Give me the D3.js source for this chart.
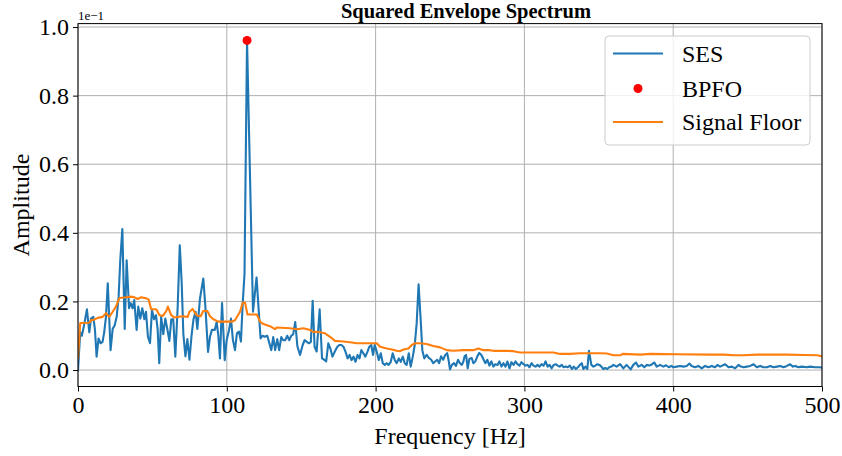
<!DOCTYPE html>
<html>
<head>
<meta charset="utf-8">
<script src="https://cdn.jsdelivr.net/npm/d3@7"></script>
<style>
html,body{margin:0;padding:0;background:#fff;}
svg{display:block;}
text{font-family:"Liberation Serif","DejaVu Serif",serif;}
</style>
</head>
<body>
<svg id="chart" width="842" height="456"></svg>
<script>
// ---- data (amplitude shown in units of 1e-1) ----
const title = "Squared Envelope Spectrum";
const xLabel = "Frequency [Hz]";
const yLabel = "Amplitude";
const offsetLabel = "1e\u22121";
const xTicks = [0, 100, 200, 300, 400, 500];
const yTicks = [0.0, 0.2, 0.4, 0.6, 0.8, 1.0];
const legendLabels = ["SES", "BPFO", "Signal Floor"];

const sesFreq = [
  0, 1.5, 2.6, 4.3, 6, 7.6, 8.7, 10.3, 11.4, 12.5,
  13.8, 15.2, 16.5, 17.6, 18.8, 20, 21.9, 23.3, 24.6, 26,
  27.3, 28.4, 29.8, 31.4, 32.7, 34.3, 35.4, 36.7, 37.8, 39.4,
  40.5, 41.9, 43.2, 44.6, 45.7, 47, 48.4, 49.7, 51.1, 52.4,
  53.5, 54.6, 55.9, 57.3, 58.7, 60, 61.4, 62.7, 64, 65.4,
  67, 68.4, 69.7, 70.8, 72.2, 73.5, 74.9, 76.3, 77.6, 79,
  80.2, 82, 84.2, 85.6, 87.4, 88.7, 90, 91.9, 93.2, 94.3,
  95.4, 96.8, 98.6, 99.9, 101.5, 102.8, 104.1, 105.5, 106.8, 108.2,
  109.5, 110.7, 111.9, 113.6, 117.6, 120, 121.2, 122.7, 124, 125.5,
  127.2, 128.5, 129.9, 131.2, 132.5, 133.9, 135.2, 136.6, 137.9, 139.3,
  140.6, 142, 143.3, 144.6, 146, 147.4, 149.2, 151, 152.3, 153.8,
  155.2, 156.5, 157.7, 159, 160.4, 162.4, 164, 165.5, 166.8, 168.2,
  169.8, 171, 172.5, 174.3, 175.6, 177, 178.4, 179.8, 181.2, 182.5,
  183.8, 185.2, 186.5, 187.9, 189.2, 190.4, 191.8, 193.1, 194.5, 195.8,
  197.1, 198.3, 199.4, 200.8, 202.1, 203.5, 204.8, 206.2, 207.5, 208.8,
  210.2, 211.5, 212.9, 214.2, 215.6, 216.9, 218.3, 219.6, 220.9, 222.3,
  223.6, 225, 226.3, 227.6, 228.9, 230.3, 231.4, 232.7, 234.3, 235.6,
  237.4, 238.7, 240, 241.4, 242.7, 244, 245.4, 246.8, 248.1, 249,
  250, 251.3, 252.7, 254, 255.4, 256.7, 258, 259, 259.8, 260.8,
  261.9, 263, 264.6, 265.7, 267, 268.4, 269.7, 271.1, 272.4, 273.8,
  275.1, 276.5, 277.8, 279.2, 280.5, 281.9, 283.2, 284.6, 285.9, 287.3,
  288.6, 290, 291.3, 292.7, 294, 295.3, 296.7, 298, 299.4, 300.7,
  302.1, 303.4, 304.8, 306.1, 307.5, 308.8, 310.2, 311.5, 312.9, 314.2,
  315.6, 316.9, 318.3, 319.7, 321, 322.4, 323.7, 325.1, 326.4, 327.8,
  329.1, 330.5, 331.9, 333.2, 334.6, 336, 337.3, 338.6, 339.6, 341,
  342.3, 343.4, 345, 346.4, 347.7, 349, 350.4, 351.7, 353, 354.3,
  355.7, 357, 358.4,
  359.8, 362, 364.3, 366.5, 368.7, 371.4, 373.2, 375, 376.6, 378.8,
  380.6, 382.2, 384, 385.8, 387.3, 388.9, 391.2, 393.4, 395.2, 397,
  398.8, 400.1, 402.3, 404.6, 406.8, 409.1, 410.9, 412.4, 414.7, 416.9,
  419.2, 421.4, 423.7, 425.9, 428.1, 429.7, 431.5, 434.9, 437.2, 439.4,
  441.6, 443.9, 445.5, 447.3, 449.5, 451.8, 454, 456.2, 458.5, 460.7,
  463, 465.2, 467.4, 469.7, 471.9, 474.2, 476.4, 478.6, 480.4, 482,
  484.2, 486.5, 489.8, 492.1, 495.4, 498.4, 500
];
const sesValues = [
  0.0, 0.11, 0.10, 0.136, 0.177, 0.11, 0.15, 0.155, 0.117, 0.039,
  0.092, 0.078, 0.082, 0.11, 0.155, 0.253, 0.058, 0.12, 0.13, 0.155,
  0.214, 0.32, 0.411, 0.12, 0.32, 0.18, 0.195, 0.18, 0.204, 0.117,
  0.185, 0.15, 0.18, 0.148, 0.17, 0.097, 0.078, 0.175, 0.148, 0.16,
  0.12, 0.02, 0.155, 0.105, 0.15, 0.12, 0.085, 0.148, 0.148, 0.039,
  0.185, 0.364, 0.253, 0.105, 0.04, 0.09, 0.03, 0.1, 0.148, 0.17,
  0.12, 0.209, 0.267, 0.185, 0.053, 0.097, 0.117, 0.117, 0.14, 0.1,
  0.034, 0.195, 0.029, 0.087, 0.117, 0.15, 0.088, 0.058, 0.107, 0.112,
  0.083, 0.195, 0.28, 0.961, 0.17, 0.27, 0.19, 0.092, 0.1, 0.097,
  0.1, 0.08, 0.058, 0.096, 0.058, 0.09, 0.058, 0.096, 0.087, 0.087,
  0.1, 0.087, 0.1, 0.104, 0.14, 0.07, 0.044, 0.073, 0.087, 0.082,
  0.078, 0.082, 0.202, 0.068, 0.054, 0.177, 0.034, 0.03, 0.025, 0.078,
  0.06, 0.039, 0.053, 0.068, 0.073, 0.073, 0.068, 0.053, 0.034, 0.044,
  0.029, 0.039, 0.024, 0.044, 0.034, 0.058, 0.049, 0.039, 0.053, 0.068,
  0.073, 0.044, 0.073, 0.053, 0.029, 0.049, 0.02, 0.015, 0.02, 0.015,
  0.024, 0.049, 0.029, 0.02, 0.034, 0.024, 0.039, 0.02, 0.015, 0.049,
  0.01, 0.039, 0.073, 0.136, 0.25, 0.146, 0.058, 0.034, 0.044, 0.036,
  0.03, 0.02, 0.025, 0.03, 0.02, 0.04, 0.03, 0.044, 0.049, 0.03,
  0.002, 0.015, 0.02, 0.012, 0.03, 0.02, 0.015, 0.025, 0.04, 0.044,
  0.005, 0.032, 0.035, 0.02, 0.025, 0.04, 0.05, 0.044, 0.032, 0.02,
  0.03, 0.013, 0.025, 0.01, 0.017, 0.015, 0.025, 0.01, 0.02, 0.01,
  0.025, 0.005, 0.023, 0.015, 0.025, 0.017, 0.013, 0.023, 0.017, 0.013,
  0.015, 0.008, 0.02, 0.013, 0.01, 0.015, 0.01, 0.017, 0.013, 0.025,
  0.01, 0.015, 0.005, 0.015, 0.017, 0.013, 0.01, 0.015, 0.008, 0.01,
  0.008, 0.013, 0.003, 0.01, 0.003, 0.008, 0.015, 0.02, 0.003, 0.01,
  0.003, 0.056, 0.015, 0.01, 0.013, 0.017, 0.015, 0.01, 0.003, 0.006,
  0.003, 0.008, 0.01,
  0.015, 0.010, 0.017, 0.005, 0.015, 0.002, 0.015, 0.022, 0.010, 0.015,
  0.008, 0.015, 0.013, 0.017, 0.022, 0.010, 0.015, 0.010, 0.014, 0.008,
  0.012, 0.008, 0.010, 0.012, 0.010, 0.012, 0.019, 0.012, 0.008, 0.012,
  0.005, 0.012, 0.008, 0.012, 0.008, 0.015, 0.010, 0.017, 0.008, 0.010,
  0.005, 0.015, 0.010, 0.008, 0.010, 0.012, 0.017, 0.008, 0.012, 0.008,
  0.008, 0.012, 0.008, 0.010, 0.012, 0.008, 0.012, 0.017, 0.010, 0.012,
  0.008, 0.010, 0.008, 0.010, 0.008, 0.008, 0.007
];

const floorFreq = [
  0, 1.5, 7.6, 8.7, 11, 13.2, 16.5, 18.8, 21, 23.3,
  25.5, 27.8, 32.3, 35.6, 38, 40, 42.5, 45.9, 47.4, 49.2,
  52.6, 54.8, 57, 59.3, 60.4, 62.6, 64.8, 67, 70.4, 73.7,
  74.9, 77, 79.6, 82.4, 84.2, 86.9, 88.7, 91, 94.3, 97.7,
  103.3, 105.5, 108.9, 110.7, 112.3, 113.9, 120.2, 122.3, 124.6, 129,
  132.4, 133.5, 142.5, 147, 151.5, 156, 157.7, 162.7, 166, 169.4,
  172.7, 178.3, 182.8, 187.3, 200.8, 203, 207.5, 210.9, 214.2, 216.5,
  218.7, 222.1, 224.3, 226.6, 230, 234.3, 238.8, 243.3, 247.8, 252.3,
  259, 265.7, 269.1, 272.4, 275.8, 279.2, 288.1, 292.6, 297.1, 319.5,
  324, 330.7, 337.4, 350.9, 355.4, 359.9, 364.4, 366, 378, 384.7,
  402.6, 425, 434, 440.7, 447.4, 456.4, 476.6, 487.8, 496.8, 500
];
const floorValues = [
  0.035, 0.137, 0.138, 0.145, 0.147, 0.152, 0.155, 0.166, 0.155, 0.17,
  0.185, 0.21, 0.212, 0.214, 0.212, 0.207, 0.212, 0.209, 0.206, 0.177,
  0.177, 0.16, 0.158, 0.172, 0.185, 0.16, 0.153, 0.155, 0.157, 0.155,
  0.17, 0.178, 0.16, 0.157, 0.172, 0.172, 0.157, 0.148, 0.141, 0.141,
  0.141, 0.145, 0.17, 0.197, 0.196, 0.162, 0.162, 0.141, 0.134, 0.128,
  0.119, 0.124, 0.122, 0.119, 0.122, 0.117, 0.112, 0.11, 0.107, 0.097,
  0.085, 0.083, 0.081, 0.078, 0.078, 0.068, 0.063, 0.06, 0.056, 0.055,
  0.06, 0.063, 0.073, 0.078, 0.078, 0.076, 0.07, 0.066, 0.058, 0.056,
  0.058, 0.058, 0.063, 0.058, 0.058, 0.056, 0.056, 0.055, 0.051, 0.051,
  0.047, 0.047, 0.049, 0.049, 0.048, 0.043, 0.043, 0.047, 0.045, 0.047,
  0.046, 0.045, 0.045, 0.043, 0.043, 0.045, 0.045, 0.044, 0.043, 0.04
];

const bpfoFreq = [113.6];
const bpfoValues = [0.961];

// ---- layout ----
const svg = d3.select("#chart");
const margin = {left: 78, right: 20, top: 23.6, bottom: 69.5};
const W = 842, H = 456;
const iw = W - margin.left - margin.right;
const ih = H - margin.top - margin.bottom;
const x = d3.scaleLinear().domain([0, 500]).range([margin.left, margin.left + iw]);
const y = d3.scaleLinear().domain([-0.048, 1.010]).range([margin.top + ih, margin.top]);

const blue = "#1f77b4", orange = "#ff7f0e";

// grid
const g = svg.append("g");
g.selectAll(".vg").data(xTicks).enter().append("line")
  .attr("x1", d => x(d)).attr("x2", d => x(d))
  .attr("y1", margin.top).attr("y2", margin.top + ih)
  .attr("stroke", "#b0b0b0").attr("stroke-width", 1);
g.selectAll(".hg").data(yTicks).enter().append("line")
  .attr("x1", margin.left).attr("x2", margin.left + iw)
  .attr("y1", d => y(d)).attr("y2", d => y(d))
  .attr("stroke", "#b0b0b0").attr("stroke-width", 1);

// clip
svg.append("clipPath").attr("id", "clip").append("rect")
  .attr("x", margin.left).attr("y", margin.top).attr("width", iw).attr("height", ih);

const sesData = sesFreq.map((f, i) => [f, sesValues[i]]);
const floorData = floorFreq.map((f, i) => [f, floorValues[i]]);
const line = d3.line().x(d => x(d[0])).y(d => y(d[1]));

const plot = svg.append("g").attr("clip-path", "url(#clip)");
plot.append("path").datum(sesData).attr("d", line)
  .attr("fill", "none").attr("stroke", blue).attr("stroke-width", 2.1)
  .attr("stroke-linejoin", "round").attr("stroke-linecap", "square");
plot.append("path").datum(floorData).attr("d", line)
  .attr("fill", "none").attr("stroke", orange).attr("stroke-width", 2.1)
  .attr("stroke-linejoin", "round").attr("stroke-linecap", "square");
svg.selectAll(".bpfo").data(bpfoFreq).enter().append("circle")
  .attr("cx", d => x(d)).attr("cy", (d, i) => y(bpfoValues[i]))
  .attr("r", 4.5).attr("fill", "#ff0000");

// axes
const xAxis = d3.axisBottom(x).tickValues(xTicks).tickFormat(d3.format("d")).tickSize(5).tickPadding(4);
const yAxis = d3.axisLeft(y).tickValues(yTicks).tickFormat(d3.format(".1f")).tickSize(5).tickPadding(4);
const gx = svg.append("g").attr("transform", `translate(0,${margin.top + ih})`).call(xAxis);
const gy = svg.append("g").attr("transform", `translate(${margin.left},0)`).call(yAxis);
[gx, gy].forEach(a => {
  a.select(".domain").remove();
  a.selectAll(".tick line").attr("stroke", "#000").attr("stroke-width", 1);
  a.selectAll(".tick text").attr("fill", "#000").style("font-size", "24px")
    .style("font-family", '"Liberation Serif", serif');
});

// spines
svg.append("rect").attr("x", margin.left).attr("y", margin.top)
  .attr("width", iw).attr("height", ih)
  .attr("fill", "none").attr("stroke", "#000").attr("stroke-width", 1);

// labels
svg.append("text").attr("x", 466).attr("y", 18)
  .attr("text-anchor", "middle").style("font-size", "20.5px").style("font-weight", "bold")
  .text(title);
svg.append("text").attr("x", margin.left + iw / 2).attr("y", 444)
  .attr("text-anchor", "middle").style("font-size", "24px").text(xLabel);
svg.append("text").attr("transform", `translate(29,${margin.top + ih / 2}) rotate(-90)`)
  .attr("text-anchor", "middle").style("font-size", "24px").text(yLabel);
svg.append("text").attr("x", margin.left).attr("y", 20)
  .style("font-size", "13px").text(offsetLabel);

// legend
const lg = svg.append("g");
lg.append("rect").attr("x", 605).attr("y", 36).attr("width", 205).attr("height", 109)
  .attr("rx", 4).attr("fill", "#fff").attr("fill-opacity", 0.8)
  .attr("stroke", "#cccccc").attr("stroke-width", 1);
const rowY = [53.5, 88.5, 122];
const handles = [
  {type: "line", color: blue},
  {type: "dot", color: "#ff0000"},
  {type: "line", color: orange}
];
legendLabels.forEach((lab, i) => {
  const h = handles[i];
  if (h.type === "line") {
    lg.append("line").attr("x1", 613).attr("x2", 663).attr("y1", rowY[i]).attr("y2", rowY[i])
      .attr("stroke", h.color).attr("stroke-width", 2.1);
  } else {
    lg.append("circle").attr("cx", 638).attr("cy", rowY[i]).attr("r", 4.5).attr("fill", h.color);
  }
  lg.append("text").attr("x", 682).attr("y", rowY[i]).attr("dy", "0.35em")
    .style("font-size", "24px").text(lab);
});
</script>
</body>
</html>
